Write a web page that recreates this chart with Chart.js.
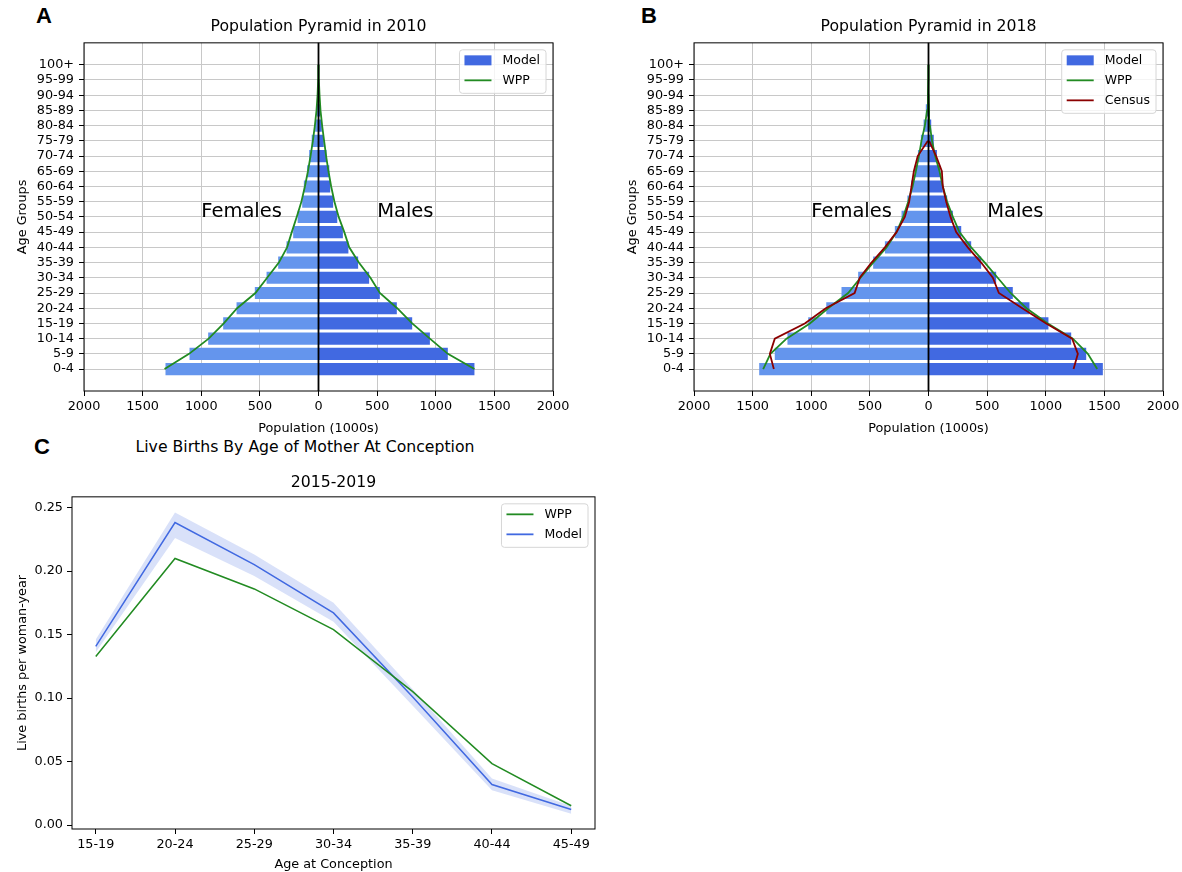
<!DOCTYPE html>
<html>
<head>
<meta charset="utf-8">
<script src="https://cdn.jsdelivr.net/npm/chart.js@4.4.1/dist/chart.umd.min.js"></script>
<style>
  body { margin: 0; background: #fff; width: 1182px; height: 872px; position: relative; overflow: hidden; font-family: 'DejaVu Sans', sans-serif; }
  canvas { position: absolute; }
  .letra { position: absolute; font: bold 22px 'Liberation Sans', Arial, sans-serif; line-height: 22px; }
  .suptitulo { position: absolute; left: 0; width: 610px; top: 438px; text-align: center; font-size: 15.7px; line-height: 18px; }
</style>
</head>
<body>
<div class="letra" style="left:36px; top:5px">A</div>
<div class="letra" style="left:641px; top:5px">B</div>
<div class="letra" style="left:34px; top:436px">C</div>
<div class="suptitulo">Live Births By Age of Mother At Conception</div>
<canvas id="pyr2010" width="580" height="436" style="left:0; top:0"></canvas>
<canvas id="pyr2018" width="580" height="436" style="left:610px; top:0"></canvas>
<canvas id="births" width="610" height="436" style="left:0; top:436px"></canvas>
<script>
// Grupos de edad (de abajo hacia arriba)
const gruposEdad = ['0-4', '5-9', '10-14', '15-19', '20-24', '25-29', '30-34', '35-39', '40-44', '45-49',
  '50-54', '55-59', '60-64', '65-69', '70-74', '75-79', '80-84', '85-89', '90-94', '95-99', '100+'];

// Población 2010 (miles)
const modelo2010Mujeres = [1305, 1100, 941, 813, 699, 543, 443, 344, 273, 216, 178, 139, 125, 97, 80, 58, 29, 15, 6, 2, 0.5];
const modelo2010Hombres = [1330, 1103, 950, 799, 668, 523, 432, 338, 255, 208, 160, 125, 100, 92, 68, 45, 28, 15, 6, 2, 0.5];
const wpp2010Mujeres = [1313, 1104, 937, 808, 694, 538, 438, 338, 268, 228, 186, 146, 116, 90, 68, 48, 31, 17, 8, 3, 1];
const wpp2010Hombres = [1330, 1103, 950, 799, 671, 523, 443, 344, 262, 220, 172, 136, 108, 85, 65, 48, 31, 17, 9, 3, 1];

// Población 2018 (miles)
const modelo2018Mujeres = [1444, 1311, 1203, 1026, 872, 742, 600, 472, 372, 287, 230, 180, 148, 117, 90, 65, 42, 23, 8, 3, 1];
const modelo2018Hombres = [1487, 1345, 1217, 1023, 861, 719, 577, 449, 364, 279, 208, 159, 122, 100, 72, 45, 23, 8, 3, 1, 0.5];
const wpp2018Mujeres = [1410, 1348, 1211, 1012, 856, 685, 580, 472, 358, 273, 216, 173, 136, 108, 82, 60, 31, 12, 5, 2, 1];
const wpp2018Hombres = [1439, 1359, 1231, 1018, 835, 700, 590, 480, 364, 264, 208, 159, 122, 94, 57, 30, 12, 5, 2, 1, 0.5];
// Censo solo hasta 75-79
const censoMujeres = [1319, 1353, 1311, 1055, 876, 630, 586, 486, 372, 273, 202, 165, 145, 125, 92, 5];
const censoHombres = [1237, 1274, 1225, 1004, 800, 600, 549, 449, 335, 236, 188, 151, 122, 114, 65, 5];

// Nacimientos por edad de la madre
const edadesConcepcion = ['15-19', '20-24', '25-29', '30-34', '35-39', '40-44', '45-49'];
const nacimientosWPP = [0.1327, 0.2099, 0.1859, 0.1539, 0.105, 0.0484, 0.0152];
const nacimientosModelo = [0.1406, 0.2382, 0.205, 0.167, 0.1008, 0.0319, 0.0123];
const modeloSuperior = [0.146, 0.246, 0.213, 0.175, 0.107, 0.0366, 0.015];
const modeloInferior = [0.136, 0.226, 0.196, 0.160, 0.094, 0.0275, 0.009];
const ticksNacimientos = [0, 0.05, 0.10, 0.15, 0.20, 0.25];
const ticksPoblacion = [-2000, -1500, -1000, -500, 0, 500, 1000, 1500, 2000];

const VERDE = '#228b22';
const ROJO = '#8b0000';
const AZUL = '#4169e1';
const AZUL_CLARO = '#6495ed';

Chart.defaults.font.family = "'DejaVu Sans', sans-serif";
Chart.defaults.font.size = 12.8;
Chart.defaults.color = '#000';

// Marco negro alrededor del área del gráfico
const marco = {
  id: 'marco',
  afterDraw(chart) {
    const { ctx, chartArea: a } = chart;
    ctx.save();
    ctx.strokeStyle = '#000';
    ctx.lineWidth = 1;
    ctx.strokeRect(a.left, a.top, a.right - a.left, a.bottom - a.top);
    ctx.restore();
  }
};

// Leyenda en caja dentro del área, arriba a la derecha
const leyendaCaja = {
  id: 'leyendaCaja',
  afterDraw(chart, args, opts) {
    const items = opts.items || [];
    if (!items.length) return;
    const { ctx, chartArea: a } = chart;
    ctx.save();
    ctx.font = "12.5px 'DejaVu Sans'";
    const anchoTexto = Math.max(...items.map(it => ctx.measureText(it.label).width));
    const w = 5 + 27 + 11 + anchoTexto + 6;
    const h = items.length * 20 + 3.5;
    const x0 = a.right - 7 - w;
    const y0 = a.top + 7;
    ctx.beginPath();
    ctx.roundRect(x0, y0, w, h, 3);
    ctx.fillStyle = 'rgba(255,255,255,0.8)';
    ctx.fill();
    ctx.strokeStyle = '#d6d6d6';
    ctx.lineWidth = 1;
    ctx.stroke();
    items.forEach((it, k) => {
      const yc = y0 + 10.5 + k * 20;
      if (it.tipo === 'patch') {
        ctx.fillStyle = it.color;
        ctx.fillRect(x0 + 5, yc - 5, 27, 10);
      } else {
        ctx.strokeStyle = it.color;
        ctx.lineWidth = 1.8;
        ctx.beginPath();
        ctx.moveTo(x0 + 5, yc);
        ctx.lineTo(x0 + 32, yc);
        ctx.stroke();
      }
      ctx.fillStyle = '#000';
      ctx.textBaseline = 'middle';
      ctx.fillText(it.label, x0 + 43, yc);
    });
    ctx.restore();
  }
};

// Línea vertical en cero y etiquetas Females / Males
const piramideExtras = {
  id: 'piramideExtras',
  afterDatasetsDraw(chart) {
    const { ctx, chartArea: a, scales: { x, y } } = chart;
    const x0 = x.getPixelForValue(0);
    ctx.save();
    ctx.strokeStyle = '#000';
    ctx.lineWidth = 1.8;
    ctx.beginPath();
    ctx.moveTo(x0, a.top);
    ctx.lineTo(x0, a.bottom);
    ctx.stroke();
    ctx.font = "19.5px 'DejaVu Sans'";
    ctx.fillStyle = '#000';
    ctx.textAlign = 'left';
    ctx.textBaseline = 'alphabetic';
    ctx.fillText('Females', x.getPixelForValue(-1000), y.getPixelForValue(10));
    ctx.fillText('Males', x.getPixelForValue(500), y.getPixelForValue(10));
    ctx.restore();
  }
};

function lineaPiramide(valores, signo, color, orden) {
  return {
    type: 'line',
    data: valores.map((v, i) => ({ x: signo * v, y: i })),
    borderColor: color,
    borderWidth: 1.8,
    pointRadius: 0,
    fill: false,
    order: orden
  };
}

function barrasPiramide(valores, signo, color) {
  return {
    type: 'bar',
    data: valores.map((v, i) => ({ x: signo * v, y: i })),
    backgroundColor: color,
    borderWidth: 0,
    grouped: false,
    barPercentage: 1,
    categoryPercentage: 0.8,
    order: 3
  };
}

function crearPiramide(id, titulo, mujeres, hombres, wppM, wppH, censoM, censoH) {
  const datasets = [
    barrasPiramide(mujeres, -1, AZUL_CLARO),
    barrasPiramide(hombres, 1, AZUL),
    lineaPiramide(wppM, -1, VERDE, 2),
    lineaPiramide(wppH, 1, VERDE, 2)
  ];
  const items = [
    { label: 'Model', tipo: 'patch', color: AZUL },
    { label: 'WPP', tipo: 'linea', color: VERDE }
  ];
  if (censoM) {
    datasets.push(lineaPiramide(censoM, -1, ROJO, 1));
    datasets.push(lineaPiramide(censoH, 1, ROJO, 1));
    items.push({ label: 'Census', tipo: 'linea', color: ROJO });
  }
  const grid = { color: '#c8c8c8', lineWidth: 1, tickColor: '#000', tickLength: 5, offset: false };
  return new Chart(document.getElementById(id), {
    type: 'bar',
    data: { datasets },
    plugins: [piramideExtras, marco, leyendaCaja],
    options: {
      indexAxis: 'y',
      responsive: false,
      animation: false,
      layout: { padding: { left: 0, right: 27, top: 0, bottom: 0 } },
      plugins: {
        legend: { display: false },
        tooltip: { enabled: false },
        title: {
          display: true, text: titulo, fullSize: false, color: '#000',
          font: { size: 15.7, weight: 'normal' }, padding: { top: 18, bottom: 6 }
        },
        leyendaCaja: { items }
      },
      scales: {
        x: {
          type: 'linear', min: -2000, max: 2000, offset: false,
          afterBuildTicks: s => { s.ticks = ticksPoblacion.map(v => ({ value: v })); },
          ticks: { callback: v => Math.abs(v), padding: 3, maxRotation: 0, autoSkip: false },
          grid, border: { display: false },
          title: { display: true, text: 'Population (1000s)', padding: { top: 5.5, bottom: 0 } },
          afterFit: s => { s.height = 45; }
        },
        y: {
          type: 'linear', min: -1.44, max: 21.44, offset: false,
          afterBuildTicks: s => { s.ticks = gruposEdad.map((_, i) => ({ value: i })); },
          ticks: { callback: v => gruposEdad[v], padding: 5, autoSkip: false },
          grid, border: { display: false },
          title: { display: true, text: 'Age Groups', padding: { top: 14.5, bottom: 0 } },
          afterFit: s => { s.width = 84; }
        }
      }
    }
  });
}

crearPiramide('pyr2010', 'Population Pyramid in 2010',
  modelo2010Mujeres, modelo2010Hombres, wpp2010Mujeres, wpp2010Hombres);
crearPiramide('pyr2018', 'Population Pyramid in 2018',
  modelo2018Mujeres, modelo2018Hombres, wpp2018Mujeres, wpp2018Hombres, censoMujeres, censoHombres);

// Panel C: nacimientos
const puntos = arr => arr.map((v, i) => ({ x: i, y: v }));
const ejeSinGrid = { drawOnChartArea: false, tickColor: '#000', tickLength: 5 };

new Chart(document.getElementById('births'), {
  type: 'line',
  data: {
    datasets: [
      { label: 'WPP', data: puntos(nacimientosWPP), borderColor: VERDE, borderWidth: 1.5, pointRadius: 0, fill: false },
      { label: 'Model', data: puntos(nacimientosModelo), borderColor: AZUL, borderWidth: 1.5, pointRadius: 0, fill: false },
      { label: 'upper', data: puntos(modeloSuperior), borderWidth: 0, borderColor: 'rgba(0,0,0,0)', pointRadius: 0, fill: false },
      { label: 'lower', data: puntos(modeloInferior), borderWidth: 0, borderColor: 'rgba(0,0,0,0)', pointRadius: 0,
        fill: 2, backgroundColor: 'rgba(65,105,225,0.2)' }
    ]
  },
  plugins: [marco, leyendaCaja],
  options: {
    responsive: false,
    animation: false,
    layout: { padding: { left: 0, right: 15, top: 0, bottom: 0 } },
    plugins: {
      legend: { display: false },
      tooltip: { enabled: false },
      title: {
        display: true, text: '2015-2019', fullSize: false, color: '#000',
        font: { size: 15.7, weight: 'normal' }, padding: { top: 38, bottom: 4 }
      },
      leyendaCaja: {
        items: [
          { label: 'WPP', tipo: 'linea', color: VERDE },
          { label: 'Model', tipo: 'linea', color: AZUL }
        ]
      }
    },
    scales: {
      x: {
        type: 'linear', min: -0.3, max: 6.3,
        afterBuildTicks: s => { s.ticks = edadesConcepcion.map((_, i) => ({ value: i })); },
        ticks: { callback: v => edadesConcepcion[v], padding: 3, maxRotation: 0, autoSkip: false },
        grid: ejeSinGrid, border: { display: false },
        title: { display: true, text: 'Age at Conception', padding: { top: 2.5, bottom: 0 } },
        afterFit: s => { s.height = 43; }
      },
      y: {
        type: 'linear', min: -0.0031, max: 0.2584,
        afterBuildTicks: s => { s.ticks = ticksNacimientos.map(v => ({ value: v })); },
        ticks: { callback: v => v.toFixed(2), padding: 4 },
        grid: ejeSinGrid, border: { display: false },
        title: { display: true, text: 'Live births per woman-year', padding: { top: 14.5, bottom: 0 } },
        afterFit: s => { s.width = 72; }
      }
    }
  }
});
</script>
</body>
</html>
